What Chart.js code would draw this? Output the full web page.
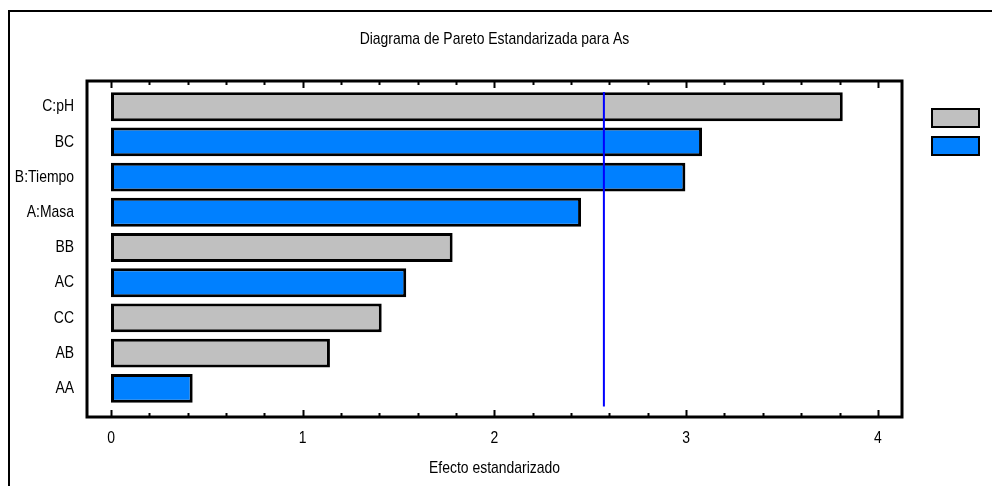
<!DOCTYPE html>
<html>
<head>
<meta charset="utf-8">
<script src="https://cdn.jsdelivr.net/npm/chart.js@4/dist/chart.umd.min.js"></script>
<style>
  html, body { margin: 0; padding: 0; background: #fff; }
  #wrap { width: 992px; height: 486px; }
</style>
</head>
<body>
<div id="wrap"><canvas id="pareto" width="992" height="486"></canvas></div>
<script>
// Standardized effects, ordered from largest to smallest (top to bottom)
const categories = ['C:pH', 'BC', 'B:Tiempo', 'A:Masa', 'BB', 'AC', 'CC', 'AB', 'AA'];
const effects    = [3.817, 3.083, 2.996, 2.452, 1.782, 1.540, 1.412, 1.142, 0.426];
const signs      = ['+', '-', '-', '-', '+', '-', '+', '+', '-'];
const xTicks     = [0, 1, 2, 3, 4];
const tCritical  = 2.571;

const FONT = "'Liberation Sans', Arial, sans-serif";
const NARROW = 0.82; // horizontal squeeze to get a narrow face
const GREY = '#C0C0C0';
const BLUE = '#0080FF';

function seriesFor(sign) {
  const pts = [];
  categories.forEach((c, i) => {
    if (signs[i] === sign) pts.push({ x: effects[i], y: i });
  });
  return pts;
}

// Draw all text condensed around its anchor point
const narrowText = {
  id: 'narrowText',
  beforeDraw(chart) {
    const ctx = chart.ctx;
    if (ctx.__narrow) return;
    ctx.__narrow = true;
    const orig = ctx.fillText;
    ctx.fillText = function (text, x, y, maxWidth) {
      this.save();
      this.translate(x, y);
      this.scale(NARROW, 1);
      if (maxWidth === undefined) orig.call(this, text, 0, 0);
      else orig.call(this, text, 0, 0, maxWidth / NARROW);
      this.restore();
    };
  }
};

// Frame, inward tick marks and the small legend boxes
const decorations = {
  id: 'decorations',
  afterDraw(chart) {
    const { ctx, chartArea: a, scales } = chart;
    const xs = scales.x;
    ctx.save();
    ctx.strokeStyle = '#000';
    // outer frame
    ctx.lineWidth = 2;
    ctx.beginPath();
    ctx.moveTo(9, 486);
    ctx.lineTo(9, 11);
    ctx.lineTo(992, 11);
    ctx.stroke();
    // plot box
    ctx.lineWidth = 3;
    ctx.strokeRect(a.left, a.top, a.right - a.left, a.bottom - a.top);
    // inward ticks on bottom and top axes, minor every 0.2
    ctx.lineWidth = 2;
    ctx.beginPath();
    for (let k = 0; k <= xTicks[xTicks.length - 1] * 5; k++) {
      const px = Math.round(xs.getPixelForValue(k / 5)) + 0.5;
      const len = k % 5 === 0 ? 7 : 4;
      ctx.moveTo(px, a.bottom);
      ctx.lineTo(px, a.bottom - len);
      ctx.moveTo(px, a.top);
      ctx.lineTo(px, a.top + len);
    }
    ctx.stroke();
    // legend swatches
    const swatches = chart.data.datasets.filter(d => d.type !== 'line');
    swatches.forEach((d, i) => {
      const y = 109 + i * 28;
      ctx.fillStyle = d.backgroundColor;
      ctx.fillRect(932, y, 47, 18);
      ctx.lineWidth = 2;
      ctx.strokeRect(932, y, 47, 18);
    });
    ctx.restore();
  }
};

new Chart(document.getElementById('pareto'), {
  type: 'bar',
  data: {
    datasets: [
      {
        label: '+',
        data: seriesFor('+'),
        backgroundColor: GREY,
        borderColor: '#000',
        borderWidth: 3,
        borderSkipped: false,
        order: 1
      },
      {
        label: '-',
        data: seriesFor('-'),
        backgroundColor: BLUE,
        borderColor: '#000',
        borderWidth: 3,
        borderSkipped: false,
        order: 1
      },
      {
        type: 'line',
        label: 't',
        data: [{ x: tCritical, y: -0.42 }, { x: tCritical, y: 8.52 }],
        borderColor: '#0000FF',
        borderWidth: 2,
        pointRadius: 0,
        order: 0
      }
    ]
  },
  options: {
    indexAxis: 'y',
    responsive: false,
    animation: false,
    devicePixelRatio: 1,
    layout: { padding: { left: 0, right: 90, top: 0, bottom: 0 } },
    datasets: { bar: { grouped: false, categoryPercentage: 1, barPercentage: 0.82 } },
    plugins: {
      legend: { display: false },
      tooltip: { enabled: false },
      title: { display: false }
    },
    scales: {
      x: {
        type: 'linear',
        position: 'bottom',
        min: -0.1252,
        max: 4.126,
        grid: { display: false },
        border: { display: false },
        afterBuildTicks(s) { s.ticks = xTicks.map(v => ({ value: v })); },
        afterFit(s) { s.height = 69; },
        ticks: {
          color: '#000',
          padding: 3,
          font: { family: FONT, size: 17 },
          maxRotation: 0
        },
        title: {
          display: true,
          text: 'Efecto estandarizado',
          color: '#000',
          font: { family: FONT, size: 17 },
          padding: { top: 0, bottom: 7 }
        }
      },
      // top axis carries the chart heading, centred over the plot
      x2: {
        type: 'linear',
        position: 'top',
        min: -0.1252,
        max: 4.126,
        grid: { display: false },
        border: { display: false },
        ticks: { display: false },
        afterFit(s) { s.height = 81; },
        title: {
          display: true,
          text: 'Diagrama de Pareto Estandarizada para As',
          color: '#000',
          font: { family: FONT, size: 17, lineHeight: 1.2 },
          padding: { top: 28.8, bottom: 0 }
        }
      },
      y: {
        type: 'linear',
        position: 'left',
        reverse: true,
        offset: false,
        min: -0.73,
        max: 8.815,
        grid: { display: false },
        border: { display: false },
        afterBuildTicks(s) { s.ticks = categories.map((c, i) => ({ value: i })); },
        afterFit(s) { s.width = 87; },
        ticks: {
          color: '#000',
          padding: 5,
          font: { family: FONT, size: 17 },
          callback: v => categories[v] ?? ''
        }
      }
    }
  },
  plugins: [narrowText, decorations]
});
</script>
</body>
</html>
